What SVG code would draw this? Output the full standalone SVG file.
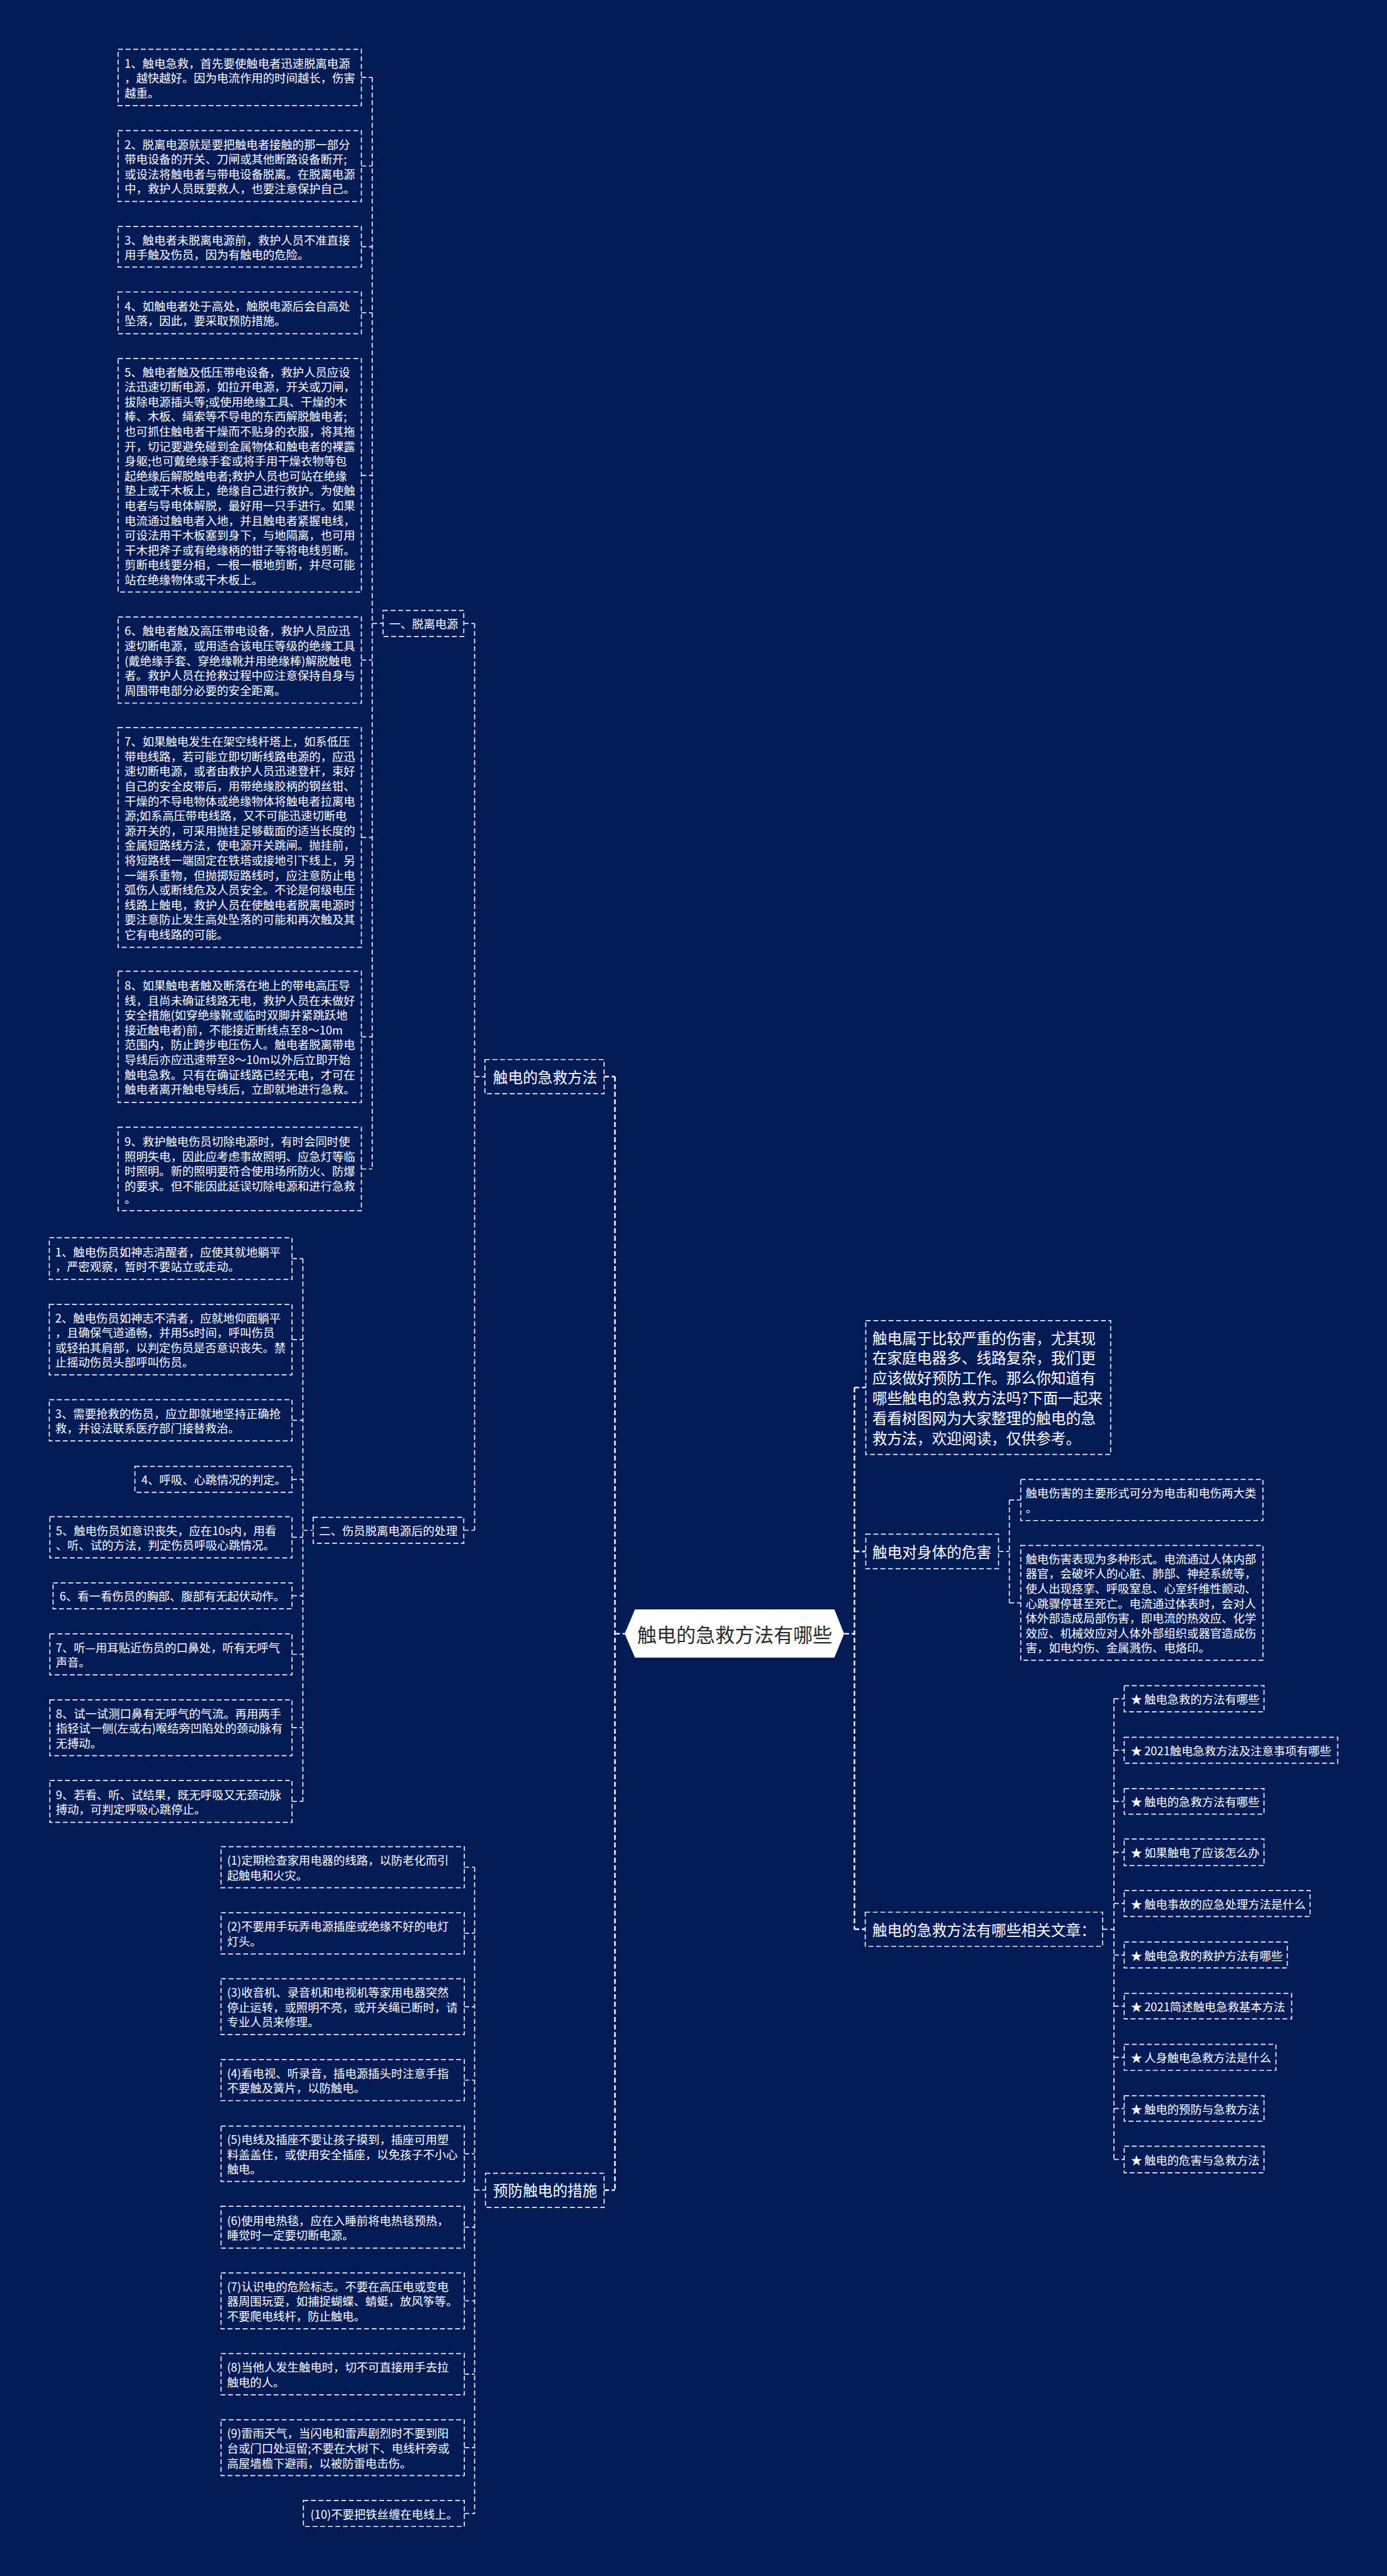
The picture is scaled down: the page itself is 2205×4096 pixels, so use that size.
<svg xmlns="http://www.w3.org/2000/svg" width="2205" height="4096" viewBox="0 0 2205 4096">
<style>
.b{fill:none;stroke:#eceef4;stroke-width:2;stroke-dasharray:9 5}
.c{fill:none;stroke:#eceef4;stroke-width:2;stroke-dasharray:9 5}
.k{fill:none;stroke:#eceef4;stroke-width:3;stroke-dasharray:9 5}
text{font-family:"Noto Sans CJK SC","Noto Sans",sans-serif;fill:#ffffff;font-size:21.3px;dominant-baseline:central}
.m{font-size:27.5px}
.r{font-size:36px;fill:#2a2a2a;text-anchor:middle}
</style>
<rect x="0" y="0" width="2205" height="4096" fill="#021b57"/>
<g transform="scale(0.86133)">
<g id="connectors">
<path class="c" d="M667 143H687M667 306.5H687M667 455.5H687M667 577.5H687M667 877.5H687M667 1218.5H687M667 1546H687M667 1914H687M667 2158H687M687 143V2158M687 1151H707"/>
<path class="c" d="M856 1151H876M876 1151V2825M856 2825H876M876 1987.5H895"/>
<path class="c" d="M539 2323.5H559M539 2473H559M539 2622H559M539 2731H559M539 2838H559M539 2946H559M539 3054H559M539 3189.5H559M539 3325.5H559M559 2323.5V3325.5M559 2825H578"/>
<path class="c" d="M857 3447H876M857 3569H876M857 3704.5H876M857 3840H876M857 3976H876M857 4111.5H876M857 4247.5H876M857 4383H876M857 4518.5H876M857 4640H876M876 3447V4640M876 4043H896"/>
<path class="k" d="M1115 1987.5H1135M1135 1987.5V4043M1115 4043H1135M1135 3016H1153"/>
<path class="k" d="M1558 3016H1577M1577 2561.5V3561.5M1577 2561.5H1598M1577 2864H1598M1577 3561.5H1597"/>
<path class="c" d="M1843 2864H1863M1863 2769V2959M1863 2769H1884M1863 2959H1884"/>
<path class="c" d="M2035 3561.5H2056M2056 3136V3986M2056 3136H2075M2056 3231H2075M2056 3325.5H2075M2056 3419.5H2075M2056 3514H2075M2056 3609H2075M2056 3703.5H2075M2056 3798H2075M2056 3892.5H2075M2056 3986.5H2075"/>
</g>

<g id="root">
<polygon points="1153,3016 1172,2971 1540,2971 1558,3016 1540,3060 1172,3060" fill="#ffffff"/>
<text class="r" x="1356" y="3016">触电的急救方法有哪些</text>
</g>

<g id="n-jijiu">
<rect class="b" x="895" y="1956" width="220" height="63"/>
<text class="m" x="910" y="1987.5">触电的急救方法</text>
</g>
<g id="n-yufang">
<rect class="b" x="896" y="4012" width="219" height="63"/>
<text class="m" x="910" y="4043">预防触电的措施</text>
</g>
<g id="n-tuoli">
<rect class="b" x="707" y="1127" width="149" height="48"/>
<text x="718" y="1151">一、脱离电源</text>
</g>
<g id="n-chuli">
<rect class="b" x="578" y="2801" width="278" height="48"/>
<text x="589" y="2825">二、伤员脱离电源后的处理</text>
</g>

<g id="a1">
<rect class="b" x="218" y="91" width="449" height="104"/>
<text x="230" y="115.6">1、触电急救，首先要使触电者迅速脱离电源</text>
<text x="230" y="143">，越快越好。因为电流作用的时间越长，伤害</text>
<text x="230" y="170.4">越重。</text>
</g>
<g id="a2">
<rect class="b" x="218" y="241" width="449" height="131"/>
<text x="230" y="265.4">2、脱离电源就是要把触电者接触的那一部分</text>
<text x="230" y="292.8">带电设备的开关、刀闸或其他断路设备断开;</text>
<text x="230" y="320.2">或设法将触电者与带电设备脱离。在脱离电源</text>
<text x="230" y="347.6">中，救护人员既要救人，也要注意保护自己。</text>
</g>
<g id="a3">
<rect class="b" x="218" y="418" width="449" height="75"/>
<text x="230" y="441.8">3、触电者未脱离电源前，救护人员不准直接</text>
<text x="230" y="469.2">用手触及伤员，因为有触电的危险。</text>
</g>
<g id="a4">
<rect class="b" x="218" y="539" width="449" height="77"/>
<text x="230" y="563.8">4、如触电者处于高处，触脱电源后会自高处</text>
<text x="230" y="591.2">坠落，因此，要采取预防措施。</text>
</g>
<g id="a5">
<rect class="b" x="218" y="662" width="449" height="431"/>
<text x="230" y="685.7">5、触电者触及低压带电设备，救护人员应设</text>
<text x="230" y="713.1">法迅速切断电源，如拉开电源，开关或刀闸，</text>
<text x="230" y="740.5">拔除电源插头等;或使用绝缘工具、干燥的木</text>
<text x="230" y="767.9">棒、木板、绳索等不导电的东西解脱触电者;</text>
<text x="230" y="795.3">也可抓住触电者干燥而不贴身的衣服，将其拖</text>
<text x="230" y="822.7">开，切记要避免碰到金属物体和触电者的裸露</text>
<text x="230" y="850.1">身躯;也可戴绝缘手套或将手用干燥衣物等包</text>
<text x="230" y="877.5">起绝缘后解脱触电者;救护人员也可站在绝缘</text>
<text x="230" y="904.9">垫上或干木板上，绝缘自己进行救护。为使触</text>
<text x="230" y="932.3">电者与导电体解脱，最好用一只手进行。如果</text>
<text x="230" y="959.7">电流通过触电者入地，并且触电者紧握电线，</text>
<text x="230" y="987.1">可设法用干木板塞到身下，与地隔离，也可用</text>
<text x="230" y="1014.5">干木把斧子或有绝缘柄的钳子等将电线剪断。</text>
<text x="230" y="1041.9">剪断电线要分相，一根一根地剪断，并尽可能</text>
<text x="230" y="1069.3">站在绝缘物体或干木板上。</text>
</g>
<g id="a6">
<rect class="b" x="218" y="1139" width="449" height="159"/>
<text x="230" y="1163.7">6、触电者触及高压带电设备，救护人员应迅</text>
<text x="230" y="1191.1">速切断电源，或用适合该电压等级的绝缘工具</text>
<text x="230" y="1218.5">(戴绝缘手套、穿绝缘靴并用绝缘棒)解脱触电</text>
<text x="230" y="1245.9">者。救护人员在抢救过程中应注意保持自身与</text>
<text x="230" y="1273.3">周围带电部分必要的安全距离。</text>
</g>
<g id="a7">
<rect class="b" x="218" y="1343" width="449" height="406"/>
<text x="230" y="1367.9">7、如果触电发生在架空线杆塔上，如系低压</text>
<text x="230" y="1395.3">带电线路，若可能立即切断线路电源的，应迅</text>
<text x="230" y="1422.7">速切断电源，或者由救护人员迅速登杆，束好</text>
<text x="230" y="1450.1">自己的安全皮带后，用带绝缘胶柄的钢丝钳、</text>
<text x="230" y="1477.5">干燥的不导电物体或绝缘物体将触电者拉离电</text>
<text x="230" y="1504.9">源;如系高压带电线路，又不可能迅速切断电</text>
<text x="230" y="1532.3">源开关的，可采用抛挂足够截面的适当长度的</text>
<text x="230" y="1559.7">金属短路线方法，使电源开关跳闸。抛挂前，</text>
<text x="230" y="1587.1">将短路线一端固定在铁塔或接地引下线上，另</text>
<text x="230" y="1614.5">一端系重物，但抛掷短路线时，应注意防止电</text>
<text x="230" y="1641.9">弧伤人或断线危及人员安全。不论是何级电压</text>
<text x="230" y="1669.3">线路上触电，救护人员在使触电者脱离电源时</text>
<text x="230" y="1696.7">要注意防止发生高处坠落的可能和再次触及其</text>
<text x="230" y="1724.1">它有电线路的可能。</text>
</g>
<g id="a8">
<rect class="b" x="218" y="1793" width="449" height="242"/>
<text x="230" y="1818.1">8、如果触电者触及断落在地上的带电高压导</text>
<text x="230" y="1845.5">线，且尚未确证线路无电，救护人员在未做好</text>
<text x="230" y="1872.9">安全措施(如穿绝缘靴或临时双脚并紧跳跃地</text>
<text x="230" y="1900.3">接近触电者)前，不能接近断线点至8～10m</text>
<text x="230" y="1927.7">范围内，防止跨步电压伤人。触电者脱离带电</text>
<text x="230" y="1955.1">导线后亦应迅速带至8～10m以外后立即开始</text>
<text x="230" y="1982.5">触电急救。只有在确证线路已经无电，才可在</text>
<text x="230" y="2009.9">触电者离开触电导线后，立即就地进行急救。</text>
</g>
<g id="a9">
<rect class="b" x="218" y="2081" width="449" height="154"/>
<text x="230" y="2106">9、救护触电伤员切除电源时，有时会同时使</text>
<text x="230" y="2133.4">照明失电，因此应考虑事故照明、应急灯等临</text>
<text x="230" y="2160.8">时照明。新的照明要符合使用场所防火、防爆</text>
<text x="230" y="2188.2">的要求。但不能因此延误切除电源和进行急救</text>
<text x="230" y="2212">。</text>
</g>

<g id="b1">
<rect class="b" x="91" y="2285" width="448" height="77"/>
<text x="102" y="2309.8">1、触电伤员如神志清醒者，应使其就地躺平</text>
<text x="102" y="2337.2">，严密观察，暂时不要站立或走动。</text>
</g>
<g id="b2">
<rect class="b" x="91" y="2408" width="448" height="130"/>
<text x="102" y="2431.9">2、触电伤员如神志不清者，应就地仰面躺平</text>
<text x="102" y="2459.3">，且确保气道通畅，并用5s时间，呼叫伤员</text>
<text x="102" y="2486.7">或轻拍其肩部，以判定伤员是否意识丧失。禁</text>
<text x="102" y="2514.1">止摇动伤员头部呼叫伤员。</text>
</g>
<g id="b3">
<rect class="b" x="91" y="2584" width="448" height="76"/>
<text x="102" y="2608.3">3、需要抢救的伤员，应立即就地坚持正确抢</text>
<text x="102" y="2635.7">救，并设法联系医疗部门接替救治。</text>
</g>
<g id="b4">
<rect class="b" x="249" y="2707" width="290" height="48"/>
<text x="261" y="2731">4、呼吸、心跳情况的判定。</text>
</g>
<g id="b5">
<rect class="b" x="92" y="2800" width="447" height="76"/>
<text x="103" y="2824.3">5、触电伤员如意识丧失，应在10s内，用看</text>
<text x="103" y="2851.7">、听、试的方法，判定伤员呼吸心跳情况。</text>
</g>
<g id="b6">
<rect class="b" x="98" y="2922" width="441" height="48"/>
<text x="110" y="2946">6、看一看伤员的胸部、腹部有无起伏动作。</text>
</g>
<g id="b7">
<rect class="b" x="92" y="3016" width="447" height="76"/>
<text x="103" y="3040.3">7、听—用耳贴近伤员的口鼻处，听有无呼气</text>
<text x="103" y="3067.7">声音。</text>
</g>
<g id="b8">
<rect class="b" x="92" y="3138" width="447" height="103"/>
<text x="103" y="3162.1">8、试一试测口鼻有无呼气的气流。再用两手</text>
<text x="103" y="3189.5">指轻试一侧(左或右)喉结旁凹陷处的颈动脉有</text>
<text x="103" y="3216.9">无搏动。</text>
</g>
<g id="b9">
<rect class="b" x="92" y="3287" width="447" height="77"/>
<text x="103" y="3311.8">9、若看、听、试结果，既无呼吸又无颈动脉</text>
<text x="103" y="3339.2">搏动，可判定呼吸心跳停止。</text>
</g>

<g id="p1">
<rect class="b" x="408" y="3409" width="449" height="76"/>
<text x="419" y="3433.3">(1)定期检查家用电器的线路，以防老化而引</text>
<text x="419" y="3460.7">起触电和火灾。</text>
</g>
<g id="p2">
<rect class="b" x="408" y="3531" width="449" height="76"/>
<text x="419" y="3555.3">(2)不要用手玩弄电源插座或绝缘不好的电灯</text>
<text x="419" y="3582.7">灯头。</text>
</g>
<g id="p3">
<rect class="b" x="408" y="3653" width="449" height="103"/>
<text x="419" y="3677.1">(3)收音机、录音机和电视机等家用电器突然</text>
<text x="419" y="3704.5">停止运转，或照明不亮，或开关绳已断时，请</text>
<text x="419" y="3731.9">专业人员来修理。</text>
</g>
<g id="p4">
<rect class="b" x="408" y="3802" width="449" height="76"/>
<text x="419" y="3826.3">(4)看电视、听录音，插电源插头时注意手指</text>
<text x="419" y="3853.7">不要触及簧片，以防触电。</text>
</g>
<g id="p5">
<rect class="b" x="408" y="3925" width="449" height="102"/>
<text x="419" y="3948.6">(5)电线及插座不要让孩子摸到，插座可用塑</text>
<text x="419" y="3976">料盖盖住，或使用安全插座，以免孩子不小心</text>
<text x="419" y="4003.4">触电。</text>
</g>
<g id="p6">
<rect class="b" x="408" y="4073" width="449" height="77"/>
<text x="419" y="4097.8">(6)使用电热毯，应在入睡前将电热毯预热，</text>
<text x="419" y="4125.2">睡觉时一定要切断电源。</text>
</g>
<g id="p7">
<rect class="b" x="408" y="4196" width="449" height="103"/>
<text x="419" y="4220.1">(7)认识电的危险标志。不要在高压电或变电</text>
<text x="419" y="4247.5">器周围玩耍，如捕捉蝴蝶、蜻蜓，放风筝等。</text>
<text x="419" y="4274.9">不要爬电线杆，防止触电。</text>
</g>
<g id="p8">
<rect class="b" x="408" y="4345" width="449" height="76"/>
<text x="419" y="4369.3">(8)当他人发生触电时，切不可直接用手去拉</text>
<text x="419" y="4396.7">触电的人。</text>
</g>
<g id="p9">
<rect class="b" x="408" y="4467" width="449" height="103"/>
<text x="419" y="4491.1">(9)雷雨天气，当闪电和雷声剧烈时不要到阳</text>
<text x="419" y="4518.5">台或门口处逗留;不要在大树下、电线杆旁或</text>
<text x="419" y="4545.9">高屋墙檐下避雨，以被防雷电击伤。</text>
</g>
<g id="p10">
<rect class="b" x="560" y="4616" width="297" height="48"/>
<text x="573" y="4640">(10)不要把铁丝缠在电线上。</text>
</g>

<g id="intro">
<rect class="b" x="1598" y="2438" width="452" height="247"/>
<text class="m" x="1610" y="2469">触电属于比较严重的伤害，尤其现</text>
<text class="m" x="1610" y="2506">在家庭电器多、线路复杂，我们更</text>
<text class="m" x="1610" y="2543">应该做好预防工作。那么你知道有</text>
<text class="m" x="1610" y="2580">哪些触电的急救方法吗?下面一起来</text>
<text class="m" x="1610" y="2617">看看树图网为大家整理的触电的急</text>
<text class="m" x="1610" y="2654">救方法，欢迎阅读，仅供参考。</text>
</g>
<g id="n-weihai">
<rect class="b" x="1598" y="2832" width="245" height="64"/>
<text class="m" x="1610" y="2864">触电对身体的危害</text>
</g>
<g id="h1">
<rect class="b" x="1884" y="2731" width="447" height="76"/>
<text x="1893" y="2755.3">触电伤害的主要形式可分为电击和电伤两大类</text>
<text x="1893" y="2782.7">。</text>
</g>
<g id="h2">
<rect class="b" x="1884" y="2853" width="447" height="212"/>
<text x="1893" y="2876.8">触电伤害表现为多种形式。电流通过人体内部</text>
<text x="1893" y="2904.2">器官，会破坏人的心脏、肺部、神经系统等，</text>
<text x="1893" y="2931.6">使人出现痉挛、呼吸窒息、心室纤维性颤动、</text>
<text x="1893" y="2959">心跳骤停甚至死亡。电流通过体表时，会对人</text>
<text x="1893" y="2986.4">体外部造成局部伤害，即电流的热效应、化学</text>
<text x="1893" y="3013.8">效应、机械效应对人体外部组织或器官造成伤</text>
<text x="1893" y="3041.2">害，如电灼伤、金属溅伤、电烙印。</text>
</g>
<g id="n-related">
<rect class="b" x="1597" y="3530" width="438" height="63"/>
<text class="m" x="1610" y="3561.5">触电的急救方法有哪些相关文章：</text>
</g>
<g id="s1"><rect class="b" x="2075" y="3112" width="258" height="48"/><text x="2087" y="3136"><tspan>★</tspan><tspan x="2112">触电急救的方法有哪些</tspan></text></g>
<g id="s2"><rect class="b" x="2075" y="3207" width="394" height="48"/><text x="2087" y="3231"><tspan>★</tspan><tspan x="2112">2021触电急救方法及注意事项有哪些</tspan></text></g>
<g id="s3"><rect class="b" x="2075" y="3302" width="258" height="47"/><text x="2087" y="3325.5"><tspan>★</tspan><tspan x="2112">触电的急救方法有哪些</tspan></text></g>
<g id="s4"><rect class="b" x="2075" y="3395" width="258" height="49"/><text x="2087" y="3419.5"><tspan>★</tspan><tspan x="2112">如果触电了应该怎么办</tspan></text></g>
<g id="s5"><rect class="b" x="2075" y="3490" width="343" height="48"/><text x="2087" y="3514"><tspan>★</tspan><tspan x="2112">触电事故的应急处理方法是什么</tspan></text></g>
<g id="s6"><rect class="b" x="2075" y="3585" width="301" height="48"/><text x="2087" y="3609"><tspan>★</tspan><tspan x="2112">触电急救的救护方法有哪些</tspan></text></g>
<g id="s7"><rect class="b" x="2075" y="3680" width="309" height="47"/><text x="2087" y="3703.5"><tspan>★</tspan><tspan x="2112">2021简述触电急救基本方法</tspan></text></g>
<g id="s8"><rect class="b" x="2075" y="3774" width="280" height="48"/><text x="2087" y="3798"><tspan>★</tspan><tspan x="2112">人身触电急救方法是什么</tspan></text></g>
<g id="s9"><rect class="b" x="2075" y="3869" width="258" height="47"/><text x="2087" y="3892.5"><tspan>★</tspan><tspan x="2112">触电的预防与急救方法</tspan></text></g>
<g id="s10"><rect class="b" x="2075" y="3962" width="258" height="49"/><text x="2087" y="3986.5"><tspan>★</tspan><tspan x="2112">触电的危害与急救方法</tspan></text></g>
</g>
</svg>
